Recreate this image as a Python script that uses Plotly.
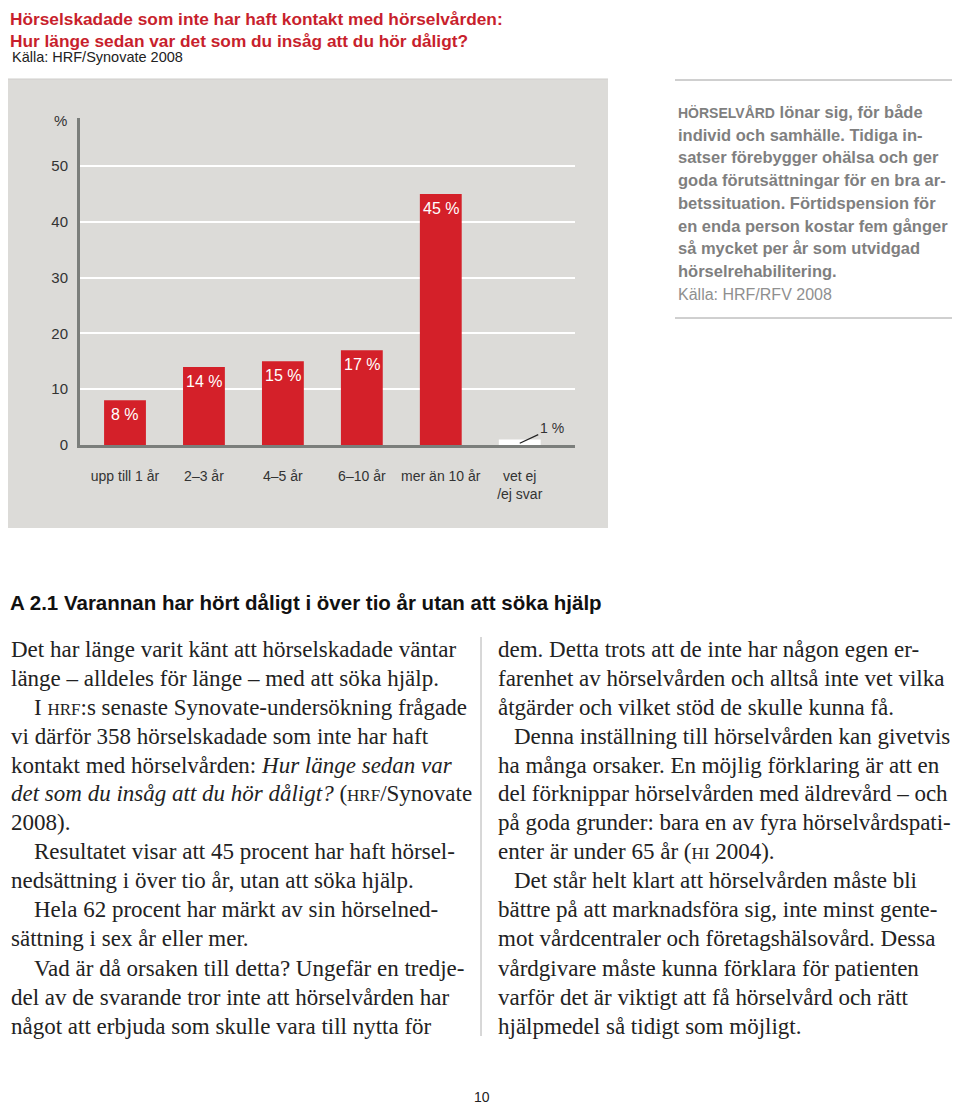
import plotly.graph_objects as go

# data
categories = ["upp till 1 år", "2–3 år", "4–5 år", "6–10 år", "mer än 10 år", "vet ej<br>/ej svar"]
values = [8, 14, 15, 17, 45, 1]
bar_colors = ["#d42029", "#d42029", "#d42029", "#d42029", "#d42029", "#ffffff"]
y_ticks = [0, 10, 20, 30, 40, 50]

title_lines = ["Hörselskadade som inte har haft kontakt med hörselvården:",
               "Hur länge sedan var det som du insåg att du hör dåligt?"]
source = "Källa: HRF/Synovate 2008"

side_lines = ["<span style='font-size:14px'>HÖRSELVÅRD</span> lönar sig, för både",
              "individ och samhälle. Tidiga in-",
              "satser förebygger ohälsa och ger",
              "goda förutsättningar för en bra ar-",
              "betssituation. Förtidspension för",
              "en enda person kostar fem gånger",
              "så mycket per år som utvidgad",
              "hörselrehabilitering."]
side_source = "Källa: HRF/RFV 2008"

heading = "A 2.1 Varannan har hört dåligt i över tio år utan att söka hjälp"

sc = "<span style='font-size:17px'>%s</span>"
left_col = [(0, "Det har länge varit känt att hörselskadade väntar"),
            (0, "länge – alldeles för länge – med att söka hjälp."),
            (1, "I " + sc % "HRF" + ":s senaste Synovate-undersökning frågade"),
            (0, "vi därför 358 hörselskadade som inte har haft"),
            (0, "kontakt med hörselvården: <i>Hur länge sedan var</i>"),
            (0, "<i>det som du insåg att du hör dåligt?</i> (" + sc % "HRF" + "/Synovate"),
            (0, "2008)."),
            (1, "Resultatet visar att 45 procent har haft hörsel-"),
            (0, "nedsättning i över tio år, utan att söka hjälp."),
            (1, "Hela 62 procent har märkt av sin hörselned-"),
            (0, "sättning i sex år eller mer."),
            (1, "Vad är då orsaken till detta? Ungefär en tredje-"),
            (0, "del av de svarande tror inte att hörselvården har"),
            (0, "något att erbjuda som skulle vara till nytta för")]
right_col = [(0, "dem. Detta trots att de inte har någon egen er-"),
             (0, "farenhet av hörselvården och alltså inte vet vilka"),
             (0, "åtgärder och vilket stöd de skulle kunna få."),
             (1, "Denna inställning till hörselvården kan givetvis"),
             (0, "ha många orsaker. En möjlig förklaring är att en"),
             (0, "del förknippar hörselvården med äldrevård – och"),
             (0, "på goda grunder: bara en av fyra hörselvårdspati-"),
             (0, "enter är under 65 år (" + sc % "HI" + " 2004)."),
             (1, "Det står helt klart att hörselvården måste bli"),
             (0, "bättre på att marknadsföra sig, inte minst gente-"),
             (0, "mot vårdcentraler och företagshälsovård. Dessa"),
             (0, "vårdgivare måste kunna förklara för patienten"),
             (0, "varför det är viktigt att få hörselvård och rätt"),
             (0, "hjälpmedel så tidigt som möjligt.")]
page_number = "10"

# page offset of the plot div (body margin), figure shrunk to match
OFF = 8
FW, FH = 960 - OFF, 1104 - OFF

# plot area in page pixels
L, R, T, B = 80, 575, 118, 445
W, H = R - L, B - T


def fx(px):
    return (px - L) / W


def fy(py):
    return (B - py) / H


SANS = "Liberation Sans, Arial, sans-serif"
SERIF = "Liberation Serif, Times New Roman, serif"

fig = go.Figure()
fig.add_trace(go.Bar(x=list(range(len(values))), y=values, marker_color=bar_colors,
                     marker_line_width=0, width=0.53, hoverinfo="skip"))

ann = []
# value labels
for i, v in enumerate(values):
    if bar_colors[i] == "#ffffff":
        ann.append(dict(x=i, y=0.3, text=f"{v} %", showarrow=True, arrowhead=0, arrowwidth=1.2,
                        arrowcolor="#222", ax=32, ay=-15, standoff=0,
                        font=dict(family=SANS, size=14, color="#333")))
    else:
        ann.append(dict(x=i, y=v, text=f"{v} %", showarrow=False, yanchor="top", yshift=-4,
                        font=dict(family=SANS, size=16, color="white")))

ann.append(dict(xref="paper", yref="paper", x=fx(69), y=fy(120), xanchor="right", yanchor="middle",
                text="%", showarrow=False, font=dict(family=SANS, size=15, color="#333")))

# titles
for k, t in enumerate(title_lines):
    ann.append(dict(xref="paper", yref="paper", x=fx(8), y=fy(19 + 22.5 * k), xanchor="left",
                    yanchor="middle", text="<b>%s</b>" % t, showarrow=False,
                    font=dict(family=SANS, size=17.3, color="#c81f2d")))
ann.append(dict(xref="paper", yref="paper", x=fx(10), y=fy(57), xanchor="left", yanchor="middle",
                text=source, showarrow=False, font=dict(family=SANS, size=14.5, color="#222")))

# side box
for k, t in enumerate(side_lines):
    ann.append(dict(xref="paper", yref="paper", x=fx(676), y=fy(112 + 22.7 * k), xanchor="left",
                    yanchor="middle", text="<b>%s</b>" % t, showarrow=False,
                    font=dict(family=SANS, size=16.5, color="#7f7f7f")))
ann.append(dict(xref="paper", yref="paper", x=fx(676), y=fy(294), xanchor="left", yanchor="middle",
                text=side_source, showarrow=False, font=dict(family=SANS, size=16, color="#8f8f8f")))

ann.append(dict(xref="paper", yref="paper", x=fx(8), y=fy(602), xanchor="left", yanchor="middle",
                text="<b>%s</b>" % heading, showarrow=False,
                font=dict(family=SANS, size=20.5, color="#111")))

# body columns
for col, x0, ind in [(left_col, 9, 23), (right_col, 496, 16)]:
    for k, (indent, t) in enumerate(col):
        ann.append(dict(xref="paper", yref="paper", x=fx(x0 + ind * indent), y=fy(649 + 29 * k),
                        xanchor="left", yanchor="middle", text=t, showarrow=False,
                        font=dict(family=SERIF, size=23, color="#222")))

ann.append(dict(xref="paper", yref="paper", x=fx(482), y=fy(1097), xanchor="center", yanchor="middle",
                text=page_number, showarrow=False, font=dict(family=SANS, size=14, color="#222")))

shapes = [
    dict(type="rect", xref="paper", yref="paper", x0=fx(8), x1=fx(608), y0=fy(79), y1=fy(528),
         fillcolor="#dcdbd8", line_width=0, layer="below"),
    dict(type="line", xref="paper", yref="paper", x0=fx(8), x1=fx(608), y0=fy(79), y1=fy(79),
         line=dict(color="#cfcecb", width=1)),
    dict(type="line", xref="paper", yref="paper", x0=fx(675), x1=fx(960), y0=fy(80), y1=fy(80),
         line=dict(color="#a0a0a0", width=1)),
    dict(type="line", xref="paper", yref="paper", x0=fx(675), x1=fx(960), y0=fy(318), y1=fy(318),
         line=dict(color="#a0a0a0", width=1)),
    dict(type="line", xref="paper", yref="paper", x0=fx(481), x1=fx(481), y0=fy(637), y1=fy(1036),
         line=dict(color="#b0b0b0", width=1)),
]

fig.update_xaxes(range=[-0.57, 5.70], tickvals=list(range(len(categories))), ticktext=categories,
                 showgrid=False, zeroline=False, showline=True, linewidth=3, linecolor="#7b7e7b",
                 ticks="outside", ticklen=16, tickcolor="rgba(0,0,0,0)",
                 tickfont=dict(family=SANS, size=14, color="#333"))
fig.update_yaxes(range=[0, H / 5.58], tickvals=y_ticks, showgrid=True, gridcolor="white", gridwidth=2,
                 zeroline=False, showline=True, linewidth=3, linecolor="#7b7e7b",
                 ticks="outside", ticklen=6, tickcolor="rgba(0,0,0,0)",
                 tickfont=dict(family=SANS, size=15, color="#333"))
fig.update_layout(
    width=FW, height=FH,
    margin=dict(l=L - OFF, r=FW - (R - OFF), t=T - OFF, b=FH - (B - OFF), pad=0),
    paper_bgcolor="white", plot_bgcolor="rgba(0,0,0,0)",
    showlegend=False, annotations=ann, shapes=shapes)

fig.write_html("out.html")
